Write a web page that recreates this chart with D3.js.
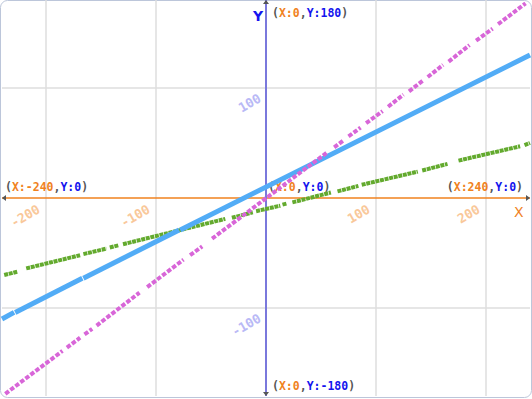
<!DOCTYPE html>
<html>
<head>
<meta charset="utf-8">
<script src="https://cdn.jsdelivr.net/npm/d3@7"></script>
<style>
  html, body { margin: 0; padding: 0; background: #fff; }
  svg { display: block; }
</style>
</head>
<body>
<div id="chart"></div>
<script>
// Stage ticks (Scratch xy-grid)
const xTicks = [-200, -100, 100, 200];
const yTicks = [-100, 100];

// Runs of dots: [x0, y0, x1, y1] in stage units
const greenRuns = [
  [-238, -70, -226, -67],
  [-218, -64, -169, -52],
  [-166, -51, -145, -46],
  [-142, -45, -134, -43],
  [-130, -42, -37, -19],
  [-31, -18, -12, -13],
  [-9, -12, 13, -7],
  [15, -6, 19, -5],
  [24, -4, 59, 5],
  [65, 6, 84, 11],
  [87, 12, 138, 24],
  [142, 25, 165, 31],
  [175, 34, 231, 47],
  [235, 48, 240, 50]
];
const blueRuns = [
  [-240, -110, -229, -104],
  [-228, -104, -167, -73],
  [-166, -73, -79, -29],
  [-78, -29, 240, 130]
];
const pinkRuns = [
  [-237, -178, -185, -139],
  [-181, -136, -169, -127],
  [-165, -124, -158, -119],
  [-154, -116, -115, -86],
  [-108, -81, -75, -56],
  [-69, -52, -58, -44],
  [-49, -37, 55, 41],
  [62, 46, 70, 52],
  [75, 56, 86, 64],
  [91, 68, 106, 79],
  [111, 83, 125, 94],
  [130, 97, 143, 107],
  [147, 110, 161, 121],
  [166, 124, 185, 139],
  [191, 143, 206, 154],
  [211, 158, 236, 177]
];

// Corner labels: [x, y, text-anchor, xText, yText]
const coordLabels = [
  [-240, 0, "start", "-240", "0"],
  [240, 0, "end", "240", "0"],
  [0, 180, "start", "0", "180"],
  [0, 0, "start", "0", "0"],
  [0, -180, "start", "0", "-180"]
];

const width = 532, height = 399;
const orange = "#f0821e", blueText = "#1414ee", gray = "#555";

const x = d3.scaleLinear().domain([-240, 240]).range([2, 530]);
const y = d3.scaleLinear().domain([-180, 180]).range([396, 0]);

const svg = d3.select("#chart").append("svg")
  .attr("width", width).attr("height", height);

svg.append("rect")
  .attr("x", 0.5).attr("y", 0.5)
  .attr("width", width - 1).attr("height", height - 2)
  .attr("rx", 7)
  .attr("fill", "#fff")
  .attr("stroke", "#bcc6da");

// grid
svg.append("g").selectAll("line").data(xTicks).join("line")
  .attr("x1", d => x(d)).attr("x2", d => x(d))
  .attr("y1", y(180)).attr("y2", y(-180))
  .attr("stroke", "#dedede").attr("stroke-width", 1.5);
svg.append("g").selectAll("line").data(yTicks).join("line")
  .attr("x1", x(-240)).attr("x2", x(240))
  .attr("y1", d => y(d)).attr("y2", d => y(d))
  .attr("stroke", "#dedede").attr("stroke-width", 1.5);

// axes
svg.append("line")
  .attr("x1", x(-240)).attr("x2", x(240))
  .attr("y1", y(0)).attr("y2", y(0))
  .attr("stroke", orange).attr("stroke-width", 1.5);
svg.append("line")
  .attr("x1", x(0)).attr("x2", x(0))
  .attr("y1", y(180)).attr("y2", y(-180))
  .attr("stroke", "#7a78dc").attr("stroke-width", 2);

// small arrow tips at axis ends
const tips = [
  [x(240), y(0), 0], [x(-240), y(0), 180],
  [x(0), y(180), -90], [x(0), y(-180), 90]
];
svg.append("g").selectAll("path").data(tips).join("path")
  .attr("d", "M0,0 L-4,-3 L-4,3 Z")
  .attr("transform", d => `translate(${d[0]},${d[1]}) rotate(${d[2]})`)
  .attr("fill", "#555");

// axis names
svg.append("text").attr("x", x(0) - 13).attr("y", 21)
  .attr("font-family", "DejaVu Sans").attr("font-weight", "bold").attr("font-size", 14)
  .attr("fill", blueText).text("Y");
svg.append("text").attr("x", x(240) - 16).attr("y", y(0) + 19)
  .attr("font-family", "DejaVu Sans").attr("font-size", 14)
  .attr("fill", orange).text("X");

// tick labels, rotated
const tickFont = "DejaVu Sans Mono";
svg.append("g").selectAll("text").data(xTicks).join("text")
  .attr("transform", d => `translate(${x(d) - 5},${y(0) + 14}) rotate(-30)`)
  .attr("text-anchor", "end")
  .attr("font-family", tickFont).attr("font-weight", "bold").attr("font-size", 13)
  .attr("fill", "#f9c89a")
  .text(d => d);
svg.append("g").selectAll("text").data(yTicks).join("text")
  .attr("transform", d => `translate(${x(0) - 4},${y(d) + 13}) rotate(-30)`)
  .attr("text-anchor", "end")
  .attr("font-family", tickFont).attr("font-weight", "bold").attr("font-size", 13)
  .attr("fill", "#b9b9f6")
  .text(d => d);

// coordinate labels
const lab = svg.append("g").selectAll("text").data(coordLabels).join("text")
  .attr("x", d => d[2] === "end" ? x(d[0]) - 7 : (d[0] === -240 ? x(d[0]) + 3 : x(d[0]) + (d[1] === 0 ? 2 : 6)))
  .attr("y", d => d[1] === 180 ? 17 : (d[1] === -180 ? y(d[1]) - 6 : y(d[1]) - 7))
  .attr("text-anchor", d => d[2])
  .attr("font-family", tickFont).attr("font-weight", "bold").attr("font-size", 11.5);
lab.each(function (d) {
  const t = d3.select(this);
  t.append("tspan").attr("fill", gray).text("(");
  t.append("tspan").attr("fill", orange).text("X:" + d[3]);
  t.append("tspan").attr("fill", gray).text(",");
  t.append("tspan").attr("fill", blueText).text("Y:" + d[4]);
  t.append("tspan").attr("fill", gray).text(")");
});

// pen trails
function drawRuns(runs, color, w, dash) {
  svg.append("g").selectAll("line").data(runs).join("line")
    .attr("x1", d => x(d[0])).attr("y1", d => y(d[1]))
    .attr("x2", d => x(d[2])).attr("y2", d => y(d[3]))
    .attr("stroke", color).attr("stroke-width", w)
    .attr("stroke-dasharray", dash);
}
drawRuns(greenRuns, "#63aa2e", 4, "4 0.7");
drawRuns(blueRuns, "#52acf6", 5, null);
drawRuns(pinkRuns, "#d866d8", 4, "4.5 1.8");
</script>
</body>
</html>
